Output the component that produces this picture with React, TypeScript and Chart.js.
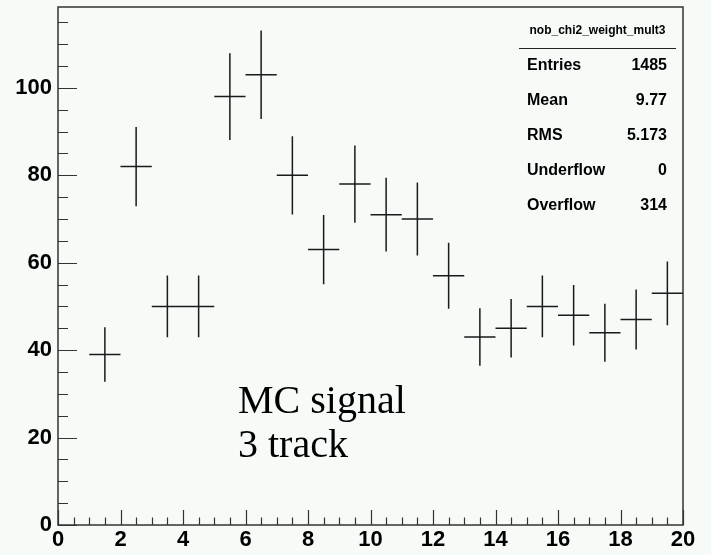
import React, { useEffect, useRef } from "react";
import { Chart, registerables } from "chart.js";

Chart.register(...registerables);

// ---- data ----
const BIN_CENTERS = [1.5, 2.5, 3.5, 4.5, 5.5, 6.5, 7.5, 8.5, 9.5, 10.5, 11.5, 12.5, 13.5, 14.5, 15.5, 16.5, 17.5, 18.5, 19.5];
const COUNTS = [39, 82, 50, 50, 98, 103, 80, 63, 78, 71, 70, 57, 43, 45, 50, 48, 44, 47, 53];
const BIN_WIDTH = 1;
const X_TICKS = [0, 2, 4, 6, 8, 10, 12, 14, 16, 18, 20];
const Y_TICKS = [0, 20, 40, 60, 80, 100];
const X_MIN = 0;
const X_MAX = 20;
const Y_MIN = 0;
const Y_MAX = 118.5;
const HIST_NAME = "nob_chi2_weight_mult3";
const STATS_LABELS = ["Entries", "Mean", "RMS", "Underflow", "Overflow"];
const STATS_VALUES = ["1485", "9.77", "5.173", "0", "314"];
const NOTE_LINES = ["MC signal", "3 track"];

const BG = "#f6fbf8";
const INK = "#1a1a1a";
const TICK_FONT = "'Liberation Sans Narrow', 'Liberation Sans', Arial, sans-serif";

const rootPlugin = {
  id: "rootStyle",
  beforeDraw(chart: any) {
    const ctx = chart.ctx;
    ctx.save();
    ctx.fillStyle = BG;
    ctx.fillRect(0, 0, chart.width, chart.height);
    ctx.restore();
  },
  afterDatasetsDraw(chart: any) {
    const ctx = chart.ctx;
    const xs = chart.scales.x;
    const ys = chart.scales.y;
    const meta = chart.getDatasetMeta(0);
    ctx.save();
    ctx.strokeStyle = INK;
    ctx.lineWidth = 1.5;
    meta.data.forEach((pt: any, i: number) => {
      const v = COUNTS[i];
      const c = BIN_CENTERS[i];
      const err = Math.sqrt(v);
      const x0 = xs.getPixelForValue(c - BIN_WIDTH / 2);
      const x1 = xs.getPixelForValue(c + BIN_WIDTH / 2);
      const yTop = ys.getPixelForValue(v + err);
      const yBot = ys.getPixelForValue(v - err);
      ctx.beginPath();
      ctx.moveTo(x0, pt.y);
      ctx.lineTo(x1, pt.y);
      ctx.moveTo(pt.x, yTop);
      ctx.lineTo(pt.x, yBot);
      ctx.stroke();
    });
    ctx.restore();
  },
  afterDraw(chart: any) {
    const ctx = chart.ctx;
    const a = chart.chartArea;
    const xs = chart.scales.x;
    const ys = chart.scales.y;
    ctx.save();
    // frame
    ctx.strokeStyle = "#333";
    ctx.lineWidth = 1.5;
    ctx.strokeRect(a.left, a.top, a.right - a.left, a.bottom - a.top);
    // y ticks
    ctx.lineWidth = 1.2;
    ctx.beginPath();
    for (let v = Y_MIN; v <= Y_MAX; v += 5) {
      const y = Math.round(ys.getPixelForValue(v)) + 0.5;
      const len = Y_TICKS.includes(v) ? 19 : 10;
      ctx.moveTo(a.left, y);
      ctx.lineTo(a.left + len, y);
    }
    // x ticks
    for (let v = X_MIN; v <= X_MAX; v += 0.5) {
      const x = Math.round(xs.getPixelForValue(v)) + 0.5;
      const len = X_TICKS.includes(v) ? 15 : 7.5;
      ctx.moveTo(x, a.bottom);
      ctx.lineTo(x, a.bottom - len);
    }
    ctx.stroke();

    // stats box
    const boxL = 519;
    const boxR = 676;
    ctx.fillStyle = "#000";
    ctx.font = "bold 12px 'Liberation Sans', Arial, sans-serif";
    ctx.textAlign = "center";
    ctx.textBaseline = "middle";
    ctx.fillText(HIST_NAME, (boxL + boxR) / 2, 31);
    ctx.strokeStyle = "#222";
    ctx.lineWidth = 1.2;
    ctx.beginPath();
    ctx.moveTo(boxL, 48.5);
    ctx.lineTo(boxR, 48.5);
    ctx.stroke();
    ctx.font = "bold 16px 'Liberation Sans', Arial, sans-serif";
    STATS_LABELS.forEach((lab, i) => {
      const y = 66 + i * 35;
      ctx.textAlign = "left";
      ctx.fillText(lab, 527, y);
      ctx.textAlign = "right";
      ctx.fillText(STATS_VALUES[i], 667, y);
    });

    // note
    ctx.font = "40px 'Liberation Serif', 'Times New Roman', serif";
    ctx.textAlign = "left";
    ctx.textBaseline = "alphabetic";
    NOTE_LINES.forEach((line, i) => {
      ctx.fillText(line, 238, 413 + i * 44);
    });
    ctx.restore();
  },
};

export default function App() {
  const ref = useRef<HTMLCanvasElement | null>(null);
  useEffect(() => {
    if (!ref.current) return;
    const chart = new Chart(ref.current, {
      type: "scatter",
      data: {
        datasets: [
          {
            data: BIN_CENTERS.map((c, i) => ({ x: c, y: COUNTS[i] })),
            pointRadius: 0,
            showLine: false,
          },
        ],
      },
      options: {
        animation: false,
        responsive: false,
        devicePixelRatio: 1,
        layout: { autoPadding: false, padding: { top: 7, right: 28, left: 0, bottom: 0 } },
        plugins: { legend: { display: false }, tooltip: { enabled: false } },
        scales: {
          x: {
            type: "linear",
            min: X_MIN,
            max: X_MAX,
            afterBuildTicks: (s: any) => {
              s.ticks = X_TICKS.map((v) => ({ value: v }));
            },
            afterFit: (s: any) => {
              s.height = 30;
              s.paddingLeft = 0;
              s.paddingRight = 0;
            },
            grid: { display: false },
            border: { display: false },
            ticks: {
              autoSkip: false,
              maxRotation: 0,
              padding: -4,
              color: "#000",
              font: { family: TICK_FONT, size: 22, weight: "bold", lineHeight: 1 },
            },
          },
          y: {
            type: "linear",
            min: Y_MIN,
            max: Y_MAX,
            afterBuildTicks: (s: any) => {
              s.ticks = Y_TICKS.map((v) => ({ value: v }));
            },
            afterFit: (s: any) => {
              s.width = 58;
              s.paddingTop = 0;
              s.paddingBottom = 0;
            },
            grid: { display: false },
            border: { display: false },
            ticks: {
              autoSkip: false,
              padding: -2,
              color: "#000",
              font: { family: TICK_FONT, size: 22, weight: "bold", lineHeight: 1 },
            },
          },
        },
      },
      plugins: [rootPlugin],
    } as any);
    return () => chart.destroy();
  }, []);
  return (
    <div style={{ position: "absolute", left: 0, top: 0, width: 711, height: 555, background: BG }}>
      <canvas ref={ref} width={711} height={555} style={{ display: "block", width: 711, height: 555 }} />
    </div>
  );
}
